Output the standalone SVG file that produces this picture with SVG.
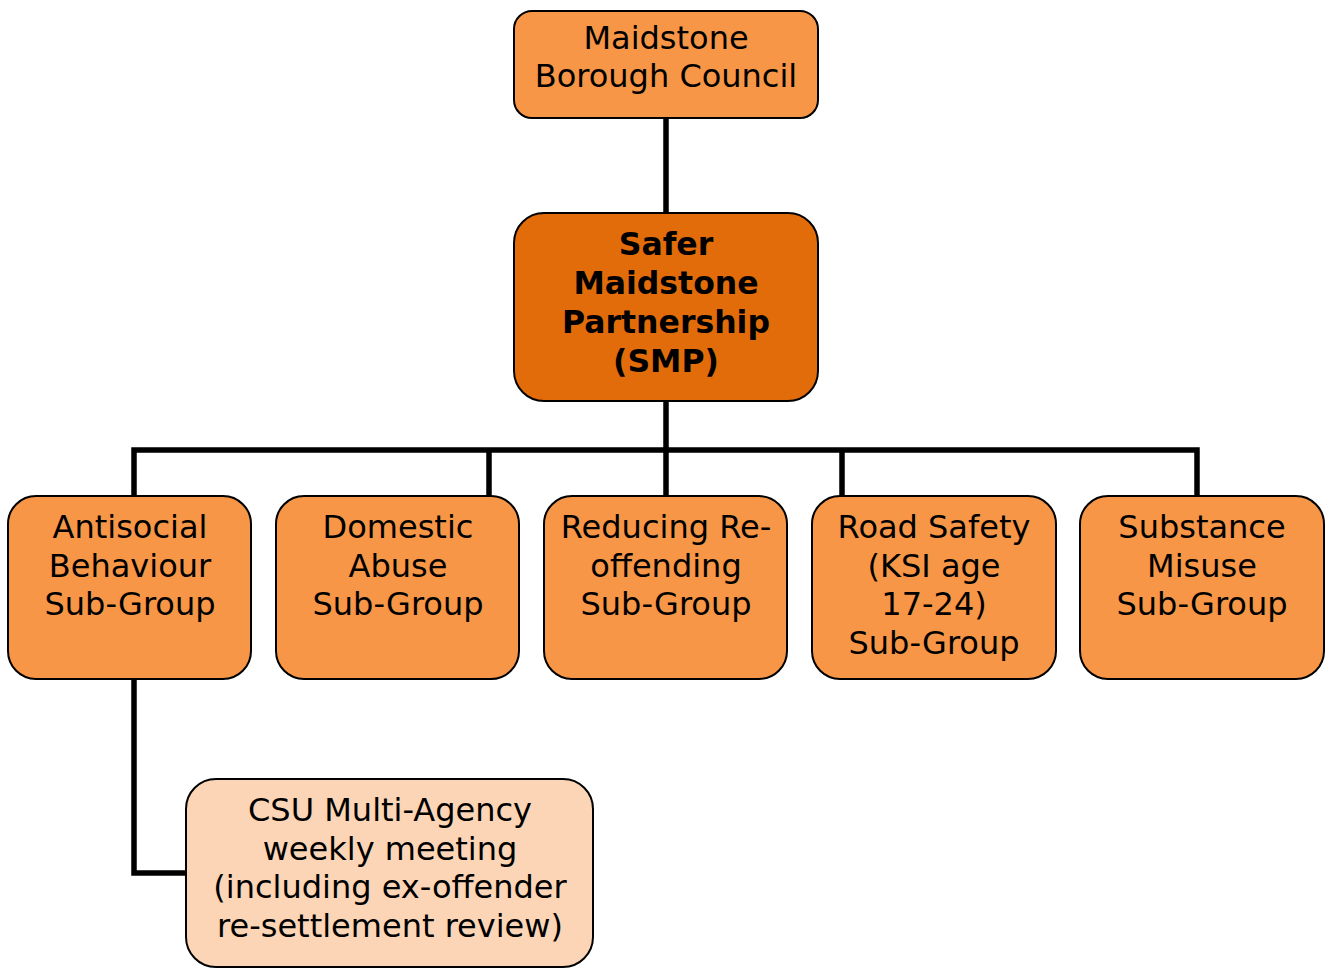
<svg xmlns="http://www.w3.org/2000/svg" width="1329" height="977" viewBox="0 0 1329 977">
<style>
.box{fill:#F79646;stroke:#000;stroke-width:2}
.main{fill:#E36C0A;stroke:#000;stroke-width:2}
.light{fill:#FBD5B5;stroke:#000;stroke-width:2}
text{font-family:"DejaVu Sans","Verdana",sans-serif;font-size:32px;fill:#000;text-anchor:middle}
.b{font-weight:bold;font-size:31.5px}
.conn{fill:none;stroke:#000;stroke-width:5.5}
</style>
<rect width="1329" height="977" fill="#fff"/>
<g id="connectors">
<path class="conn" d="M666,118V213M666,401V497"/>
<path class="conn" d="M134,497V450H1197V497M489,450V497M842,450V497"/>
<path class="conn" d="M134,679V873H188"/>
</g>
<g id="council">
<rect class="box" x="514" y="11" width="304" height="107" rx="18"/>
<text x="666" y="49">Maidstone</text>
<text x="666" y="87">Borough Council</text>
</g>
<g id="smp">
<rect class="main" x="514" y="213" width="304" height="188" rx="30"/>
<text class="b" x="666" y="255">Safer</text>
<text class="b" x="666" y="294">Maidstone</text>
<text class="b" x="666" y="333">Partnership</text>
<text class="b" x="666" y="372">(SMP)</text>
</g>
<g id="asb">
<rect class="box" x="8" y="496" width="243" height="183" rx="28"/>
<text x="130" y="538">Antisocial</text>
<text x="130" y="577">Behaviour</text>
<text x="130" y="615">Sub-Group</text>
</g>
<g id="domestic">
<rect class="box" x="276" y="496" width="243" height="183" rx="28"/>
<text x="398" y="538">Domestic</text>
<text x="398" y="577">Abuse</text>
<text x="398" y="615">Sub-Group</text>
</g>
<g id="reoffending">
<rect class="box" x="544" y="496" width="243" height="183" rx="28"/>
<text x="666" y="538">Reducing Re-</text>
<text x="666" y="577">offending</text>
<text x="666" y="615">Sub-Group</text>
</g>
<g id="road">
<rect class="box" x="812" y="496" width="244" height="183" rx="28"/>
<text x="934" y="538">Road Safety</text>
<text x="934" y="577">(KSI age</text>
<text x="934" y="615">17-24)</text>
<text x="934" y="654">Sub-Group</text>
</g>
<g id="substance">
<rect class="box" x="1080" y="496" width="244" height="183" rx="28"/>
<text x="1202" y="538">Substance</text>
<text x="1202" y="577">Misuse</text>
<text x="1202" y="615">Sub-Group</text>
</g>
<g id="csu">
<rect class="light" x="186" y="779" width="407" height="188" rx="30"/>
<text x="390" y="821">CSU Multi-Agency</text>
<text x="390" y="860">weekly meeting</text>
<text x="390" y="898">(including ex-offender</text>
<text x="390" y="937">re-settlement review)</text>
</g>
</svg>
